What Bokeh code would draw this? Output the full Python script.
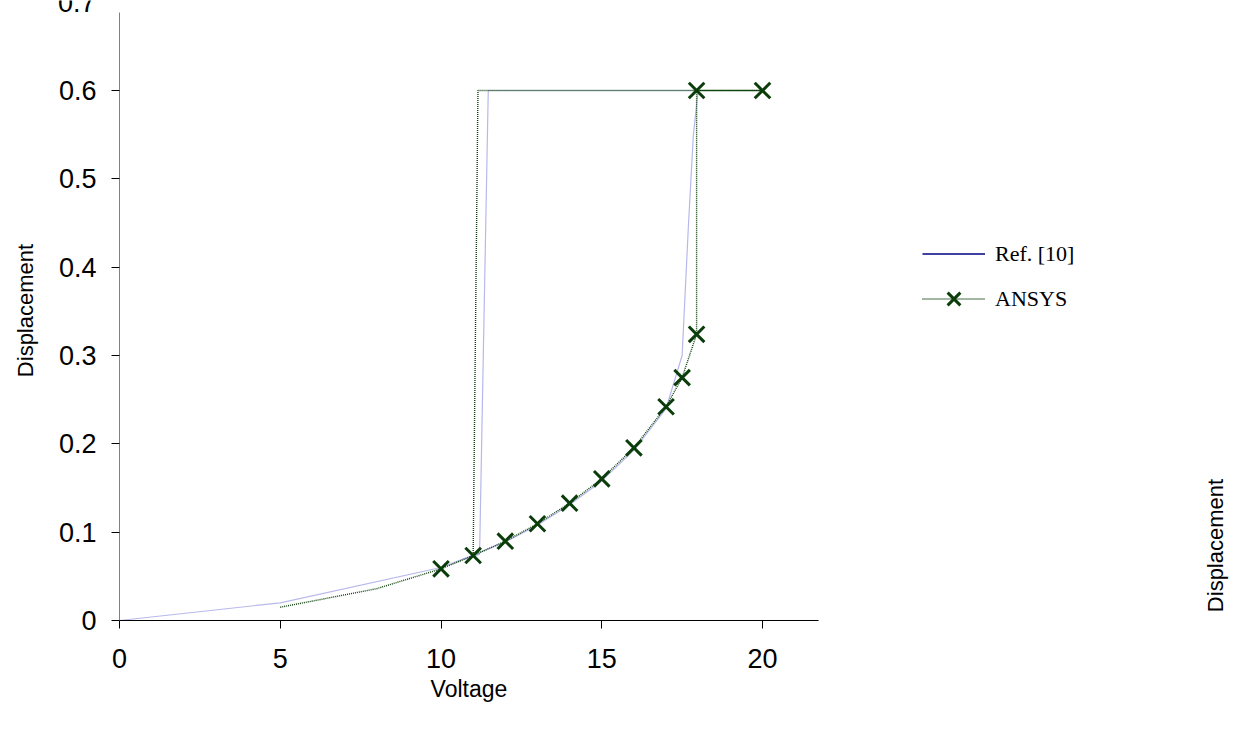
import math
from bokeh.plotting import figure
from bokeh.models import Range1d, FixedTicker, CustomJSTickFormatter, Legend, LegendItem, Label
from bokeh.embed import file_html
from bokeh.resources import INLINE

# ---- data ----
ref_x = [0, 5, 10, 11, 12, 13, 14, 15, 16, 17, 17.5, 17.7, 17.85, 18, 20, 11.47, 11.2, 10, 5, 0]
ref_y = [0, 0.020, 0.060, 0.074, 0.089, 0.108, 0.131, 0.158, 0.193, 0.240, 0.300, 0.450, 0.550, 0.600, 0.600, 0.600, 0.075, 0.060, 0.020, 0]

ansys_x = [5, 8, 10, 11, 12, 13, 14, 15, 16, 17, 17.5, 17.95, 17.95, 20, 11.15, 11.0]
ansys_y = [0.015, 0.036, 0.0585, 0.0736, 0.0898, 0.1095, 0.1328, 0.1604, 0.1955, 0.242, 0.275, 0.324, 0.600, 0.600, 0.600, 0.0736]

mark_x = [10, 11, 12, 13, 14, 15, 16, 17, 17.5, 17.95, 17.95, 20]
mark_y = [0.0585, 0.0736, 0.0898, 0.1095, 0.1328, 0.1604, 0.1955, 0.242, 0.275, 0.324, 0.600, 0.600]

x_ticks = [0, 5, 10, 15, 20]
y_ticks = [0, 0.1, 0.2, 0.3, 0.4, 0.5, 0.6]
y_top_tick = 0.7          # only partly visible at the top edge in the reference
x_max = 21.74

FONT = "Liberation Sans"
SERIF = "Liberation Serif"
TICK_FS = "27px"

W, H = 1241, 732
X0_PX, Y0_PX = 119, 620          # pixel position of the data origin
SX, SY = 32.15, 883.3             # pixels per data unit

p = figure(width=W, height=H, output_backend="svg", toolbar_location=None,
           x_range=Range1d(-X0_PX / SX, (W - X0_PX) / SX),
           y_range=Range1d(-(H - Y0_PX) / SY, Y0_PX / SY),
           min_border_left=0, min_border_right=0, min_border_top=0, min_border_bottom=0)
p.outline_line_color = None
p.xgrid.visible = False
p.ygrid.visible = False
p.background_fill_color = "white"
p.border_fill_color = "white"

# axes drawn at the data origin
p.xaxis.fixed_location = 0
p.yaxis.fixed_location = 0
p.xaxis.ticker = FixedTicker(ticks=x_ticks)
p.yaxis.ticker = FixedTicker(ticks=y_ticks)
p.xaxis.bounds = (0, x_max)
p.yaxis.bounds = (0, (Y0_PX - 12) / SY)
p.yaxis.formatter = CustomJSTickFormatter(code="return tick == 0 ? '0' : tick.toFixed(1);")
for ax in (p.xaxis[0], p.yaxis[0]):
    ax.major_label_text_font = FONT
    ax.major_label_text_font_size = TICK_FS
    ax.major_label_text_color = "black"
    ax.major_tick_in = 0
    ax.major_tick_out = 8
    ax.minor_tick_in = 0
    ax.minor_tick_out = 0
    ax.major_tick_line_color = "black"
p.xaxis.axis_line_color = "black"
p.yaxis.axis_line_color = "#808080"
p.xaxis.major_label_standoff = 20
p.yaxis.major_label_standoff = 15

# top tick label, cut by the top edge as in the reference
p.add_layout(Label(x=-24 / SX, y=y_top_tick, text=f"{y_top_tick:.1f}",
                   text_font=FONT, text_font_size=TICK_FS, text_align="right",
                   text_baseline="middle", text_color="black"))

# series
ref_line = p.line(ref_x, ref_y, line_color="#b8b8ec", line_width=1.2)
ans_line = p.line(ansys_x, ansys_y, line_color="#0a400a", line_width=1.4, line_dash="1 1")
ans_mark = p.scatter(mark_x, mark_y, marker="x", size=22, line_color="#0b3d0b", line_width=3)
# legend proxy for Ref. [10] (darker blue, drawn off-screen)
ref_proxy = p.line(x=[-50, -49], y=[-5, -5], line_color="#000080", line_width=1.4)

legend = Legend(items=[
    LegendItem(label="Ref. [10]", renderers=[ref_proxy]),
    LegendItem(label="ANSYS", renderers=[ans_line, ans_mark]),
], location=(922, 411), orientation="vertical")
legend.label_text_font = SERIF
legend.label_text_font_size = "22px"
legend.label_text_color = "black"
legend.glyph_width = 63
legend.glyph_height = 45
legend.label_height = 45
legend.spacing = 0
legend.padding = 0
legend.margin = 0
legend.label_standoff = 10
legend.border_line_color = None
legend.background_fill_alpha = 0
p.add_layout(legend, "center")

# axis titles
p.add_layout(Label(x=x_max / 2, y=(Y0_PX - 688) / SY, text="Voltage",
                   text_font=FONT, text_font_size="23px", text_align="center",
                   text_baseline="middle", text_color="black"))
p.add_layout(Label(x=(25 - X0_PX) / SX, y=(Y0_PX - 310) / SY, text="Displacement",
                   text_font=FONT, text_font_size="22px", text_align="center",
                   text_baseline="middle", angle=math.pi / 2, text_color="black"))
p.add_layout(Label(x=(1215 - X0_PX) / SX, y=(Y0_PX - 545) / SY, text="Displacement",
                   text_font=FONT, text_font_size="22px", text_align="center",
                   text_baseline="middle", angle=math.pi / 2, text_color="black"))

open("out.html", "w").write(file_html(p, INLINE))
